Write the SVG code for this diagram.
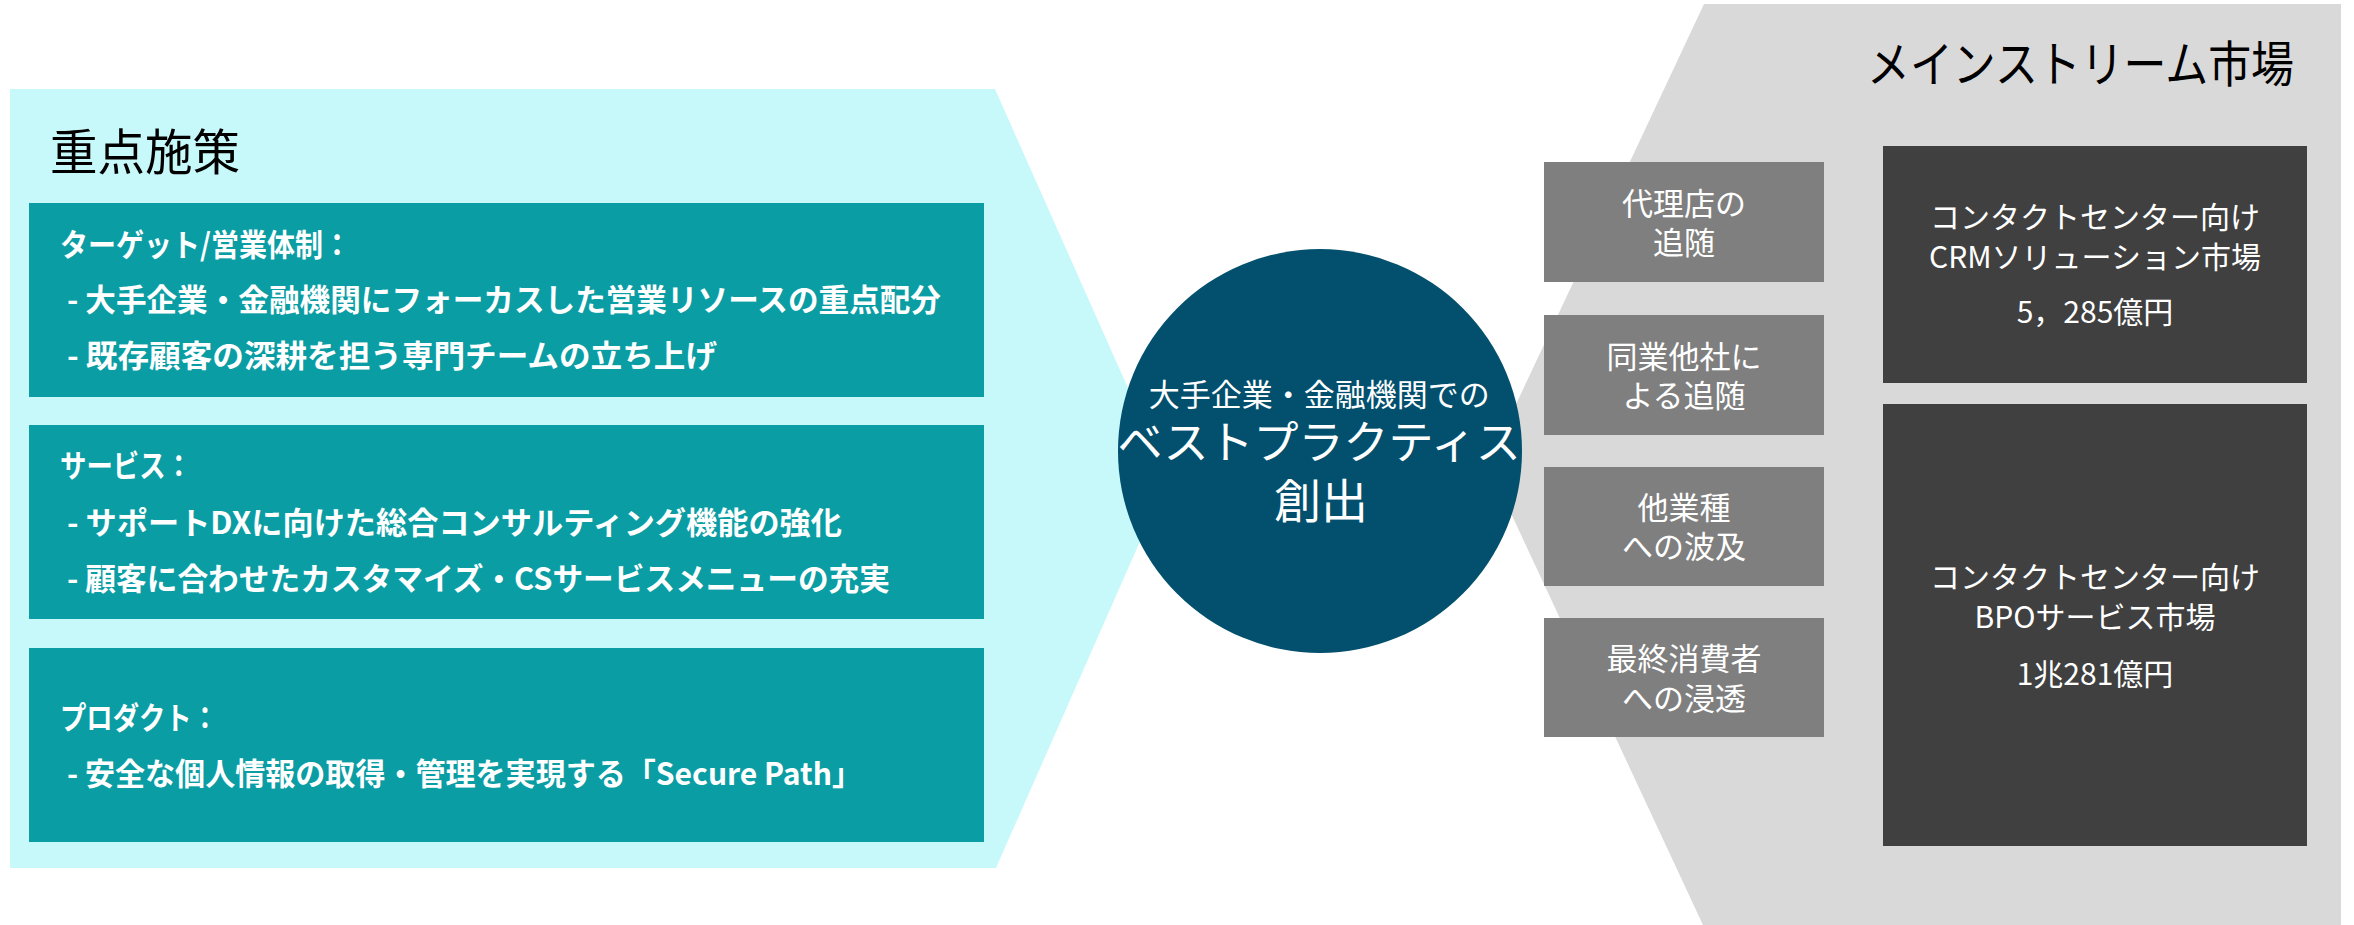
<svg xmlns="http://www.w3.org/2000/svg" width="2354" height="925" viewBox="0 0 2354 925">
  <style>
    text { font-family: "Noto Sans CJK JP", "Noto Sans", sans-serif; }
    .panel-cyan { fill: #C8F9FA; }
    .panel-gray { fill: #D9D9D9; }
    .teal { fill: #0A9DA4; }
    .gbox { fill: #7F7F7F; }
    .dbox { fill: #404040; }
    .title { fill: #000000; font-size: 49px; }
    .lt { fill: #FFFFFF; font-size: 31px; font-weight: bold; }
    .wt { fill: #FFFFFF; font-size: 31px; text-anchor: middle; }
    .dt { fill: #FFFFFF; font-size: 30px; text-anchor: middle; }
    .ct { fill: #FFFFFF; text-anchor: middle; }
  </style>

  <g id="panel-left">
    <polygon class="panel-cyan" points="10,89 995,89 1168,478 996,868 10,868"/>
    <text class="title" x="50" y="170" textLength="190" lengthAdjust="spacingAndGlyphs">重点施策</text>
  </g>

  <g id="panel-right">
    <polygon class="panel-gray" points="1704,4 2341,4 2341,925 1703,925 1488,464"/>
    <text class="title" x="1867" y="82" textLength="427" lengthAdjust="spacingAndGlyphs">メインストリーム市場</text>
  </g>

  <g id="node-target">
    <rect class="teal" x="29" y="203" width="955" height="194"/>
    <text class="lt" x="60" y="256" textLength="291" lengthAdjust="spacingAndGlyphs">ターゲット/営業体制：</text>
    <text class="lt" x="67" y="311" textLength="874" lengthAdjust="spacingAndGlyphs">- 大手企業・金融機関にフォーカスした営業リソースの重点配分</text>
    <text class="lt" x="67" y="367" textLength="650" lengthAdjust="spacingAndGlyphs">- 既存顧客の深耕を担う専門チームの立ち上げ</text>
  </g>

  <g id="node-service">
    <rect class="teal" x="29" y="425" width="955" height="194"/>
    <text class="lt" x="60" y="477" textLength="132" lengthAdjust="spacingAndGlyphs">サービス：</text>
    <text class="lt" x="67" y="534" textLength="775" lengthAdjust="spacingAndGlyphs">- サポートDXに向けた総合コンサルティング機能の強化</text>
    <text class="lt" x="67" y="590" textLength="823" lengthAdjust="spacingAndGlyphs">- 顧客に合わせたカスタマイズ・CSサービスメニューの充実</text>
  </g>

  <g id="node-product">
    <rect class="teal" x="29" y="648" width="955" height="194"/>
    <text class="lt" x="60" y="729" textLength="158" lengthAdjust="spacingAndGlyphs">プロダクト：</text>
    <text class="lt" x="67" y="785" textLength="795" lengthAdjust="spacingAndGlyphs">- 安全な個人情報の取得・管理を実現する「Secure Path」</text>
  </g>

  <g id="node-best-practice">
    <circle cx="1320" cy="451" r="202" fill="#02506E"/>
    <text class="ct">
      <tspan x="1321" y="406" font-size="31">大手企業・金融機関での</tspan>
      <tspan x="1321" y="459" font-size="45">ベストプラクティス</tspan>
      <tspan x="1321" y="518" font-size="47">創出</tspan>
    </text>
  </g>

  <g id="node-agency">
    <rect class="gbox" x="1544" y="162" width="280" height="120"/>
    <text class="wt"><tspan x="1684" y="215">代理店の</tspan><tspan x="1684" y="254">追随</tspan></text>
  </g>

  <g id="node-competitor">
    <rect class="gbox" x="1544" y="315" width="280" height="120"/>
    <text class="wt"><tspan x="1684" y="368">同業他社に</tspan><tspan x="1684" y="407">よる追随</tspan></text>
  </g>

  <g id="node-other-industry">
    <rect class="gbox" x="1544" y="467" width="280" height="119"/>
    <text class="wt"><tspan x="1684" y="519">他業種</tspan><tspan x="1684" y="558">への波及</tspan></text>
  </g>

  <g id="node-consumer">
    <rect class="gbox" x="1544" y="618" width="280" height="119"/>
    <text class="wt"><tspan x="1684" y="670">最終消費者</tspan><tspan x="1684" y="710">への浸透</tspan></text>
  </g>

  <g id="node-crm-market">
    <rect class="dbox" x="1883" y="146" width="424" height="237"/>
    <text class="dt"><tspan x="2095" y="228">コンタクトセンター向け</tspan><tspan x="2095" y="268">CRMソリューション市場</tspan><tspan x="2095" y="323">5，285億円</tspan></text>
  </g>

  <g id="node-bpo-market">
    <rect class="dbox" x="1883" y="404" width="424" height="442"/>
    <text class="dt"><tspan x="2095" y="588">コンタクトセンター向け</tspan><tspan x="2095" y="628">BPOサービス市場</tspan><tspan x="2095" y="685">1兆281億円</tspan></text>
  </g>

  <g id="connectors"/>
</svg>
